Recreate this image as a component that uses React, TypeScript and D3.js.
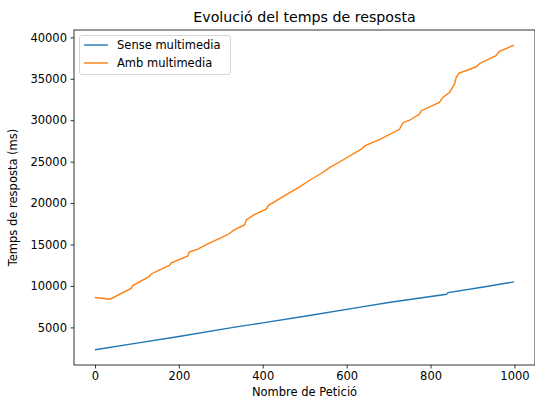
import React, { useRef, useEffect } from "react";
import * as d3 from "d3";

// request number / response time (ms)
const senseX = [0, 100, 200, 330, 400, 500, 640, 700, 838, 842, 930, 999];
const senseY = [2300, 3100, 3900, 5000, 5550, 6350, 7500, 8000, 9000, 9200, 9900, 10500];

const ambX = [
  0, 36, 86, 90, 130, 134, 178, 182, 221, 225, 245, 270, 300, 320, 330, 357, 361, 380, 409, 413,
  452, 488, 510, 540, 560, 591, 635, 643, 679, 726, 734, 750, 774, 778, 821, 829, 845, 857, 861,
  867, 909, 917, 956, 964, 999,
];
const ambY = [
  8600, 8400, 9700, 10050, 11150, 11450, 12500, 12800, 13600, 14100, 14450, 15100, 15800, 16300,
  16700, 17400, 18000, 18600, 19300, 19700, 20900, 21950, 22700, 23600, 24300, 25200, 26500, 26900,
  27700, 28900, 29700, 30000, 30750, 31150, 32150, 32750, 33350, 34350, 35150, 35650, 36450, 36850,
  37800, 38300, 39050,
];

const xTicks = [0, 200, 400, 600, 800, 1000];
const yTicks = [5000, 10000, 15000, 20000, 25000, 30000, 35000, 40000];

const seriesNames = ["Sense multimedia", "Amb multimedia"];
const colors = ["#1f77b4", "#ff7f0e"];

const W = 535;
const H = 398;
const left = 74;
const right = 535;
const top = 30;
const bottom = 365;
const font = "DejaVu Sans, sans-serif";

const App = () => {
  const xRef = useRef<SVGGElement>(null);
  const yRef = useRef<SVGGElement>(null);

  const series = [
    senseX.map((x, i) => [x, senseY[i]] as [number, number]),
    ambX.map((x, i) => [x, ambY[i]] as [number, number]),
  ];
  const allX = [...senseX, ...ambX];
  const allY = [...senseY, ...ambY];
  const [x0, x1] = d3.extent(allX) as [number, number];
  const [y0, y1] = d3.extent(allY) as [number, number];
  const px = (x1 - x0) * 0.05;
  const py = (y1 - y0) * 0.05;

  const xScale = d3.scaleLinear().domain([x0 - px, x1 + px]).range([left, right]);
  const yScale = d3.scaleLinear().domain([y0 - py, y1 + py]).range([bottom, top]);

  const line = d3
    .line<[number, number]>()
    .x((d) => xScale(d[0]))
    .y((d) => yScale(d[1]));

  useEffect(() => {
    const xa = d3.axisBottom(xScale).tickValues(xTicks).tickSize(3.5).tickPadding(3.5).tickFormat(d3.format("d"));
    const ya = d3.axisLeft(yScale).tickValues(yTicks).tickSize(3.5).tickPadding(3.5).tickFormat(d3.format("d"));
    const gx = d3.select(xRef.current!);
    gx.call(xa as any);
    const gy = d3.select(yRef.current!);
    gy.call(ya as any);
    [gx, gy].forEach((g) => {
      g.select(".domain").remove();
      g.selectAll("line").attr("stroke", "#000").attr("stroke-width", 0.8);
      g.selectAll("text").attr("font-family", font).attr("font-size", 11.5).attr("fill", "#000");
    });
  }, []);

  return (
    <svg width={W} height={H} style={{ position: "absolute", left: 0, top: 0, background: "#fff" }}>
      <rect x={0} y={0} width={W} height={H} fill="#fff" />
      <text x={(left + right) / 2} y={22} textAnchor="middle" fontFamily={font} fontSize={14.2} fill="#000">
        Evolució del temps de resposta
      </text>
      {series.map((s, i) => (
        <path key={i} d={line(s) || ""} fill="none" stroke={colors[i]} strokeWidth={1.4} />
      ))}
      <g ref={xRef} transform={`translate(0,${bottom})`} />
      <g ref={yRef} transform={`translate(${left},0)`} />
      <rect x={left} y={top} width={right - left} height={bottom - top} fill="none" stroke="#000" strokeWidth={0.8} />
      <g>
        <rect x={79.5} y={35.5} width={151} height={39} rx={2.5} fill="#fff" fillOpacity={0.8} stroke="#ccc" strokeWidth={0.8} />
        {seriesNames.map((n, i) => (
          <g key={n} transform={`translate(0,${45 + i * 18})`}>
            <line x1={84} x2={108} y1={0} y2={0} stroke={colors[i]} strokeWidth={1.4} />
            <text x={117} y={4.2} fontFamily={font} fontSize={11.5} fill="#000">
              {n}
            </text>
          </g>
        ))}
      </g>
      <text x={(left + right) / 2} y={396} textAnchor="middle" fontFamily={font} fontSize={11.5} fill="#000">
        Nombre de Petició
      </text>
      <text
        transform={`translate(17,${(top + bottom) / 2}) rotate(-90)`}
        textAnchor="middle"
        fontFamily={font}
        fontSize={11.5}
        fill="#000"
      >
        Temps de resposta (ms)
      </text>
    </svg>
  );
};

export default App;
